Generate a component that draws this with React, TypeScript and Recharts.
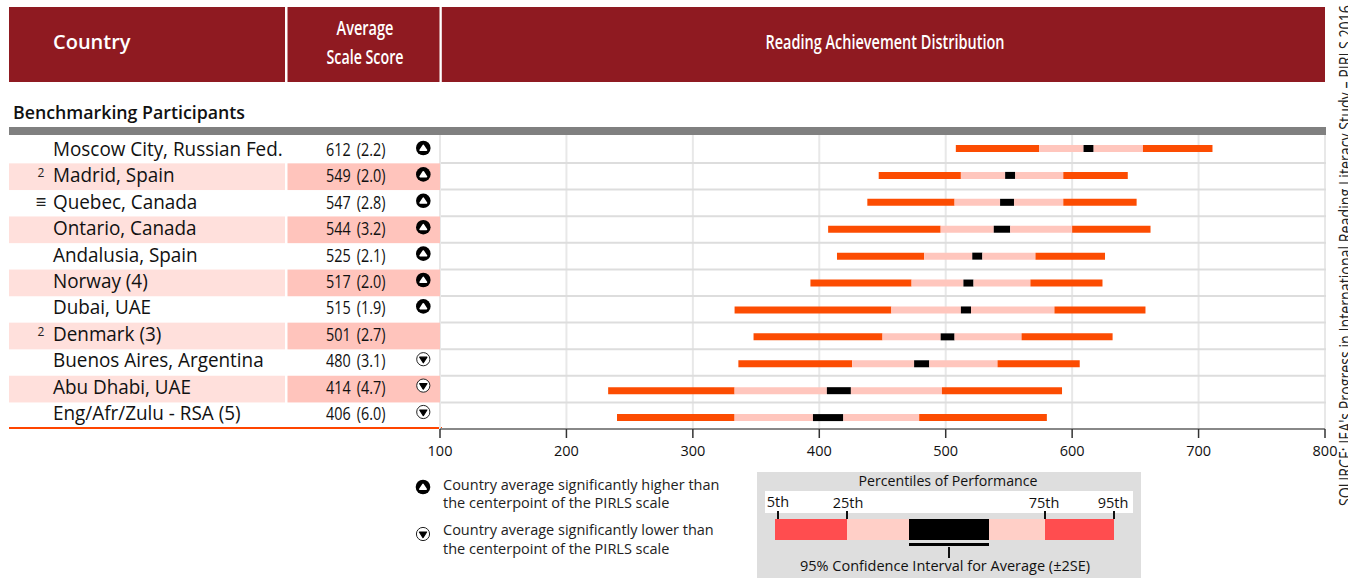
import { ComposedChart, Bar, XAxis, YAxis, CartesianGrid } from 'recharts';

const FONT = '"Open Sans", sans-serif';

const countries = [
  'Moscow City, Russian Fed.', 'Madrid, Spain', 'Quebec, Canada', 'Ontario, Canada',
  'Andalusia, Spain', 'Norway (4)', 'Dubai, UAE', 'Denmark (3)',
  'Buenos Aires, Argentina', 'Abu Dhabi, UAE', 'Eng/Afr/Zulu - RSA (5)',
];
const notes = ['', '2', '≡', '', '', '', '', '2', '', '', ''];
const scores = [
  '612 (2.2)', '549 (2.0)', '547 (2.8)', '544 (3.2)', '525 (2.1)', '517 (2.0)',
  '515 (1.9)', '501 (2.7)', '480 (3.1)', '414 (4.7)', '406 (6.0)',
];
const marks = ['up', 'up', 'up', 'up', 'up', 'up', 'up', '', 'down', 'down', 'down'];

const p5 = [508, 447, 438, 407, 414, 393, 333, 348, 336, 233, 240];
const p25 = [574, 512, 507, 496, 483, 473, 457, 450, 426, 333, 333];
const ciLow = [609, 547, 543, 538, 521, 514, 512, 496, 475, 406, 395];
const ciHigh = [617, 555, 554, 551, 529, 522, 520, 507, 487, 425, 419];
const p75 = [656, 593, 593, 600, 571, 567, 586, 560, 541, 497, 479];
const p95 = [711, 644, 651, 662, 626, 624, 658, 632, 606, 592, 580];

const xTicks = [100, 200, 300, 400, 500, 600, 700, 800];

const data = countries.map((country, i) => ({
  country,
  offset: p5[i],
  low: p25[i] - p5[i],
  midLow: ciLow[i] - p25[i],
  ci: ciHigh[i] - ciLow[i],
  midHigh: p75[i] - ciHigh[i],
  high: p95[i] - p75[i],
}));

const ORANGE = '#fc4c02';
const PINK = '#ffc6bd';

function Mark({ kind, x, y }: { kind: string; x: number; y: number }) {
  if (kind === 'up') {
    return (
      <g>
        <circle cx={x} cy={y} r={7.3} fill="#000" />
        <path d={`M${x} ${y - 2.6}L${x + 3.2} ${y + 2.2}H${x - 3.2}Z`} fill="#fff" stroke="#fff" strokeWidth={1.6} strokeLinejoin="round" />
      </g>
    );
  }
  if (kind === 'down') {
    return (
      <g>
        <circle cx={x} cy={y} r={6.6} fill="#fff" stroke="#222" strokeWidth={1} />
        <path d={`M${x} ${y + 3.6}L${x + 3.6} ${y - 2}H${x - 3.6}Z`} fill="#000" stroke="#000" strokeWidth={1.2} strokeLinejoin="round" />
      </g>
    );
  }
  return null;
}

// the table rows sit a little tighter than the bars in the source, so they keep their own step
function RowTick({ index }: any) {
  const striped = index % 2 === 1;
  const base = 156 + index * 26.4;
  const note = notes[index];
  return (
    <g>
      {striped && <rect x={9} y={136.8 + index * 26.55} width={276} height={26.7} fill="#ffe0dc" />}
      {striped && <rect x={287.5} y={136.8 + index * 26.55} width={152.5} height={26.7} fill="#ffc4bc" />}
      {index < 10 && <line x1={441} x2={1326} y1={163 + index * 26.6} y2={163 + index * 26.6} stroke="#dddddd" strokeWidth={2} />}
      <text transform={`translate(53 ${base}) scale(0.945 1)`} fontSize={20} fill="#111" fontFamily={FONT}>
        {countries[index]}
      </text>
      <text x={41} y={note === '≡' ? base - 1 : base - 5} fontSize={note === '≡' ? 18 : 12} textAnchor="middle" fill="#222" fontFamily={FONT}>
        {note}
      </text>
      <text transform={`translate(326 ${base}) scale(0.8 1)`} fontSize={18} wordSpacing={3} fill="#111" fontFamily={FONT}>
        {scores[index]}
      </text>
      <Mark kind={marks[index]} x={423.3} y={148 + index * 26.4} />
    </g>
  );
}

function Key() {
  return (
    <svg width={1348} height={578} style={{ position: 'absolute', left: 0, top: 0, fontFamily: FONT }}>
      <rect x={9} y={7} width={1316} height={75} fill="#8f1a21" />
      <rect x={285} y={7} width={2.5} height={75} fill="#fff" />
      <rect x={439.5} y={7} width={2.3} height={75} fill="#fff" />
      <text x={53} y={49} fontSize={20} fontWeight={600} fill="#fff">Country</text>
      <text x={365} y={35} fontSize={19} fontWeight={600} fill="#fff" textAnchor="middle" textLength={57} lengthAdjust="spacingAndGlyphs">Average</text>
      <text x={365} y={64} fontSize={19} fontWeight={600} fill="#fff" textAnchor="middle" textLength={77} lengthAdjust="spacingAndGlyphs">Scale Score</text>
      <text x={885} y={49} fontSize={19} fontWeight={600} fill="#fff" textAnchor="middle" textLength={239} lengthAdjust="spacingAndGlyphs">Reading Achievement Distribution</text>
      <text x={13} y={119} fontSize={18} fontWeight={600} fill="#111" textLength={232} lengthAdjust="spacingAndGlyphs">Benchmarking Participants</text>
      <rect x={9} y={127} width={1317} height={8} fill="#808080" />
      <line x1={9} x2={442} y1={428} y2={428} stroke="#ff4500" strokeWidth={2} />

      <Mark kind="up" x={423} y={487} />
      <Mark kind="down" x={423} y={534} />
      <text fontSize={14.5} fill="#222">
        <tspan x={443} y={490}>Country average significantly higher than</tspan>
        <tspan x={443} y={508}>the centerpoint of the PIRLS scale</tspan>
        <tspan x={443} y={535}>Country average significantly lower than</tspan>
        <tspan x={443} y={554}>the centerpoint of the PIRLS scale</tspan>
      </text>

      <rect x={757} y={472} width={384} height={106} fill="#dedede" />
      <rect x={765} y={491} width={368} height={22} fill="#fff" />
      <text x={948} y={486} fontSize={14.5} fill="#111" textAnchor="middle" textLength={179} lengthAdjust="spacingAndGlyphs">Percentiles of Performance</text>
      <text x={778} y={507} fontSize={14.5} fill="#111" textAnchor="middle">5th</text>
      <text x={848} y={508} fontSize={14.5} fill="#111" textAnchor="middle">25th</text>
      <text x={1044} y={508} fontSize={14.5} fill="#111" textAnchor="middle">75th</text>
      <text x={1113} y={508} fontSize={14.5} fill="#111" textAnchor="middle">95th</text>
      <rect x={775} y={519} width={72} height={21} fill="#ff4d4f" />
      <rect x={847} y={519} width={62} height={21} fill="#ffcfc7" />
      <rect x={909} y={519} width={80} height={21} fill="#000" />
      <rect x={989} y={519} width={56} height={21} fill="#ffcfc7" />
      <rect x={1045} y={519} width={69} height={21} fill="#ff4d4f" />
      <rect x={909} y={543} width={80} height={3} fill="#000" />
      <g stroke="#111" strokeWidth={2}>
        <line x1={778} x2={778} y1={511} y2={519} />
        <line x1={847} x2={847} y1={511} y2={519} />
        <line x1={1045} x2={1045} y1={511} y2={519} />
        <line x1={1114} x2={1114} y1={511} y2={519} />
        <line x1={949} x2={949} y1={547} y2={558} />
      </g>
      <text x={945} y={571} fontSize={14.5} fill="#111" textAnchor="middle" textLength={290} lengthAdjust="spacingAndGlyphs">95% Confidence Interval for Average (±2SE)</text>

      <text transform="translate(1352 506) rotate(-90)" fontSize={18} fill="#222" textLength={501} lengthAdjust="spacingAndGlyphs">
        SOURCE: IEA's Progress in International Reading Literacy Study – PIRLS 2016
      </text>
    </svg>
  );
}

export default function App() {
  return (
    <div style={{ position: 'absolute', left: 0, top: 0, width: 1348, height: 578, overflow: 'hidden', background: '#fff', fontFamily: FONT }}>
      <Key />
      <div style={{ position: 'absolute', left: 0, top: 0 }}>
        <ComposedChart
          width={1348}
          height={578}
          layout="vertical"
          data={data}
          barCategoryGap={0}
          margin={{ top: 135, right: 23, bottom: 109, left: 9 }}
        >
          <CartesianGrid horizontal={false} stroke="#e8e8e8" strokeWidth={2} />
          <XAxis
            type="number"
            domain={[100, 800]}
            ticks={xTicks}
            allowDataOverflow
            height={40}
            tick={{ fontSize: 14.5, fill: '#111' }}
            tickSize={9}
            tickMargin={8}
            tickLine={{ stroke: '#333', strokeWidth: 1.5 }}
            axisLine={{ stroke: '#888', strokeWidth: 2 }}
          />
          <YAxis
            type="category"
            dataKey="country"
            width={431}
            interval={0}
            axisLine={false}
            tickLine={false}
            tick={RowTick}
            padding={{ top: 0, bottom: -2 }}
          />
          <Bar dataKey="offset" stackId="a" barSize={7} fill="transparent" isAnimationActive={false} />
          <Bar dataKey="low" stackId="a" barSize={7} fill={ORANGE} isAnimationActive={false} />
          <Bar dataKey="midLow" stackId="a" barSize={7} fill={PINK} isAnimationActive={false} />
          <Bar dataKey="ci" stackId="a" barSize={7} fill="#000" isAnimationActive={false} />
          <Bar dataKey="midHigh" stackId="a" barSize={7} fill={PINK} isAnimationActive={false} />
          <Bar dataKey="high" stackId="a" barSize={7} fill={ORANGE} isAnimationActive={false} />
        </ComposedChart>
      </div>
    </div>
  );
}
